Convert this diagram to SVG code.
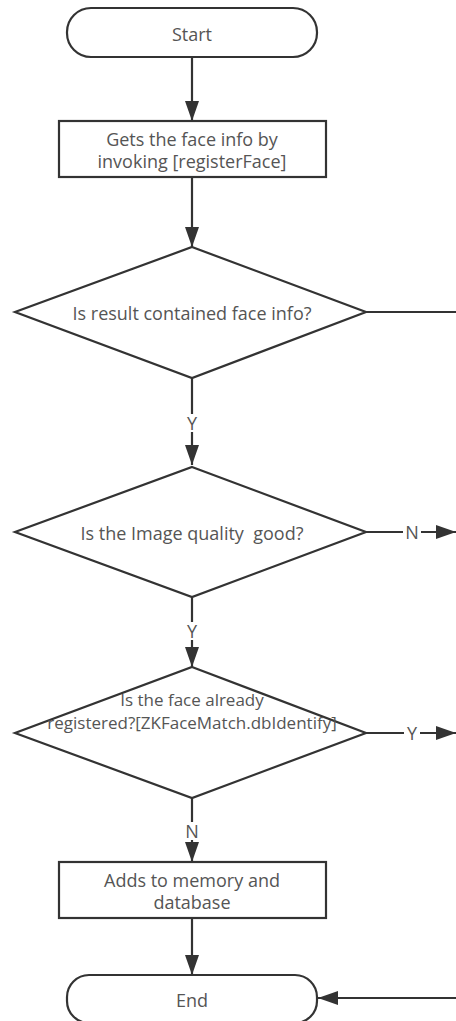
<svg xmlns="http://www.w3.org/2000/svg" width="456" height="1021" viewBox="0 0 456 1021">
  <defs>
    <marker id="arrow" markerUnits="userSpaceOnUse" markerWidth="20" markerHeight="14" refX="20" refY="7" orient="auto">
      <path d="M0,0 L20,7 L0,14 z" fill="#333"/>
    </marker>
    <style>
      .shape { fill: #fff; stroke: #333; stroke-width: 2.2; }
      .edge { fill: none; stroke: #333; stroke-width: 2.2; }
      .lbl { font-family: "Open Sans", "Noto Sans", sans-serif; font-size: 18px; fill: #555; text-anchor: middle; white-space: pre; }
      .small { font-size: 17px; }
      .elbl { font-family: "Open Sans", "Noto Sans", sans-serif; font-size: 18px; fill: #555; text-anchor: middle; dominant-baseline: central; }
      .bg { fill: #fff; }
    </style>
  </defs>
  <rect width="456" height="1021" fill="#fff"/>

  <g id="connectors">
    <line class="edge" x1="192" y1="57" x2="192" y2="121" marker-end="url(#arrow)"/>
    <line class="edge" x1="192" y1="177" x2="192" y2="247" marker-end="url(#arrow)"/>
    <line class="edge" x1="366" y1="312" x2="456" y2="312"/>
    <line class="edge" x1="192" y1="378" x2="192" y2="465" marker-end="url(#arrow)"/>
    <line class="edge" x1="366" y1="532" x2="456" y2="532" marker-end="url(#arrow)"/>
    <line class="edge" x1="192" y1="597" x2="192" y2="667" marker-end="url(#arrow)"/>
    <line class="edge" x1="366" y1="733" x2="456" y2="733" marker-end="url(#arrow)"/>
    <line class="edge" x1="192" y1="798" x2="192" y2="862" marker-end="url(#arrow)"/>
    <line class="edge" x1="192" y1="918" x2="192" y2="975" marker-end="url(#arrow)"/>
    <line class="edge" x1="456" y1="998" x2="318" y2="998" marker-end="url(#arrow)"/>
    <!-- edge labels -->
    <rect class="bg" x="185" y="414" width="14" height="18"/>
    <text class="elbl" x="192" y="423">Y</text>
    <rect class="bg" x="403" y="523" width="18" height="18"/>
    <text class="elbl" x="412" y="532">N</text>
    <rect class="bg" x="185" y="622" width="14" height="18"/>
    <text class="elbl" x="192" y="631">Y</text>
    <rect class="bg" x="404" y="724" width="16" height="18"/>
    <text class="elbl" x="412" y="733">Y</text>
    <rect class="bg" x="183" y="822" width="18" height="18"/>
    <text class="elbl" x="192" y="831">N</text>
  </g>

  <g id="start">
    <rect class="shape" x="67" y="8" width="250" height="49" rx="24" ry="24"/>
    <text class="lbl" x="192" y="41">Start</text>
  </g>

  <g id="get-face-info">
    <rect class="shape" x="59" y="121" width="267" height="56"/>
    <text class="lbl" x="192" y="146">Gets the face info by</text>
    <text class="lbl" x="192" y="168">invoking [registerFace]</text>
  </g>

  <g id="has-face-info">
    <polygon class="shape" points="192,247 366,312 192,378 15,312"/>
    <text class="lbl" x="192" y="320">Is result contained face info?</text>
  </g>

  <g id="quality-check">
    <polygon class="shape" points="192,467 366,532 192,597 15,532"/>
    <text class="lbl" x="192" y="540" xml:space="preserve">Is the Image quality  good?</text>
  </g>

  <g id="already-registered">
    <polygon class="shape" points="192,667 366,733 192,798 15,733"/>
    <text class="lbl small" x="192" y="706">Is the face already</text>
    <text class="lbl small" x="192" y="729">registered?[ZKFaceMatch.dbIdentify]</text>
  </g>

  <g id="add-to-db">
    <rect class="shape" x="59" y="862" width="267" height="56"/>
    <text class="lbl" x="192" y="887">Adds to memory and</text>
    <text class="lbl" x="192" y="909">database</text>
  </g>

  <g id="end">
    <rect class="shape" x="67" y="975" width="250" height="48" rx="22" ry="22"/>
    <text class="lbl" x="192" y="1007">End</text>
  </g>
</svg>
